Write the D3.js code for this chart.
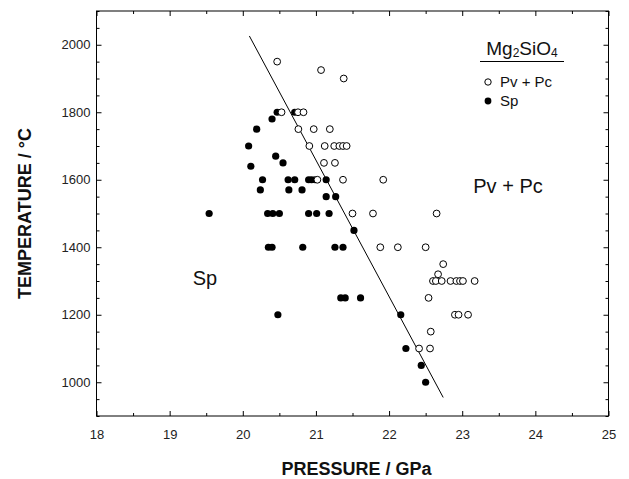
<!DOCTYPE html>
<html><head><meta charset="utf-8">
<script src="https://cdn.jsdelivr.net/npm/d3@7"></script>
<style>
body{margin:0;background:#fff}
svg{display:block}
text{font-family:"Liberation Sans",Arial,Helvetica,sans-serif}
</style>
</head><body>
<svg id="chart" width="629" height="479"></svg>
<script>
// ---- data ----
const xMajorTicks = [18, 19, 20, 21, 22, 23, 24, 25];
const yLabelTicks = [1000, 1200, 1400, 1600, 1800, 2000];

// Pv + Pc (open circles)
const pvPressure = [20.47, 21.07, 21.38,
  20.53, 20.755, 20.83,
  20.76, 20.97, 21.19,
  20.91, 21.12, 21.25, 21.32, 21.37, 21.42,
  21.11, 21.26,
  21.02, 21.37, 21.92,
  21.50, 21.78, 22.65,
  21.88, 22.12, 22.50,
  22.74, 22.67,
  22.60, 22.64, 22.72, 22.84, 22.92, 22.97, 23.01, 23.17,
  22.54,
  22.90, 22.95, 23.08,
  22.57,
  22.41, 22.56];
const pvTemp = [1950, 1925, 1900,
  1800, 1800, 1800,
  1750, 1750, 1750,
  1700, 1700, 1700, 1700, 1700, 1700,
  1650, 1650,
  1600, 1600, 1600,
  1500, 1500, 1500,
  1400, 1400, 1400,
  1350, 1320,
  1300, 1300, 1300, 1300, 1300, 1300, 1300, 1300,
  1250,
  1200, 1200, 1200,
  1150,
  1100, 1100];

// Sp (filled circles)
const spPressure = [20.47, 20.71,
  20.40, 20.19, 20.08, 20.45, 20.55, 20.11,
  20.27, 20.62, 20.71, 20.90, 20.94, 20.99, 21.14,
  20.24, 20.63, 20.81,
  21.14, 21.27,
  19.54, 20.34, 20.41, 20.50, 20.90, 21.01, 21.18,
  21.52,
  20.35, 20.40, 20.82, 21.26, 21.37,
  21.34, 21.40, 21.61,
  20.48, 22.16,
  22.23, 22.44, 22.50];
const spTemp = [1800, 1800,
  1780, 1750, 1700, 1670, 1650, 1640,
  1600, 1600, 1600, 1600, 1600, 1600, 1600,
  1570, 1570, 1570,
  1550, 1550,
  1500, 1500, 1500, 1500, 1500, 1500, 1500,
  1450,
  1400, 1400, 1400, 1400, 1400,
  1250, 1250, 1250,
  1200, 1200,
  1100, 1050, 1000];

// phase boundary
const boundaryPressure = [20.09, 22.74];
const boundaryTemp = [2026, 955];

// ---- drawing ----
const svg = d3.select("#chart");
const L = 96.5, R = 608.5, T = 11, B = 416;
const x = d3.scaleLinear().domain([18, 25]).range([L, R]);
const y = d3.scaleLinear().domain([900, 2100]).range([B, T]);

const xMinor = d3.range(18, 25.001, 0.5).filter(v => !xMajorTicks.includes(v));
const yAll = d3.range(900, 2100.001, 50);
const yMinor = yAll.filter(v => !yLabelTicks.includes(v));

function styleAxis(g) {
  g.select(".domain").remove();
  g.selectAll("line").attr("stroke", "#000").attr("stroke-width", 1);
  g.selectAll("text").attr("fill", "#222").style("font-size", "13px");
}

// bottom
svg.append("g").attr("transform", `translate(0,${B})`)
  .call(d3.axisBottom(x).tickValues(xMajorTicks).tickSizeInner(-5).tickSizeOuter(0).tickPadding(14).tickFormat(d3.format("d")))
  .call(styleAxis);
svg.append("g").attr("transform", `translate(0,${B})`)
  .call(d3.axisBottom(x).tickValues(xMinor).tickSizeInner(-3).tickSizeOuter(0).tickFormat(""))
  .call(styleAxis);
// top
svg.append("g").attr("transform", `translate(0,${T})`)
  .call(d3.axisTop(x).tickValues(xMajorTicks).tickSizeInner(-5).tickSizeOuter(0).tickFormat(""))
  .call(styleAxis);
svg.append("g").attr("transform", `translate(0,${T})`)
  .call(d3.axisTop(x).tickValues(xMinor).tickSizeInner(-3).tickSizeOuter(0).tickFormat(""))
  .call(styleAxis);
// left
svg.append("g").attr("transform", `translate(${L},0)`)
  .call(d3.axisLeft(y).tickValues(yLabelTicks).tickSizeInner(-5).tickSizeOuter(0).tickPadding(6).tickFormat(d3.format("d")))
  .call(styleAxis);
svg.append("g").attr("transform", `translate(${L},0)`)
  .call(d3.axisLeft(y).tickValues(yMinor).tickSizeInner(-3).tickSizeOuter(0).tickFormat(""))
  .call(styleAxis);
// right
svg.append("g").attr("transform", `translate(${R},0)`)
  .call(d3.axisRight(y).tickValues(yLabelTicks).tickSizeInner(-5).tickSizeOuter(0).tickFormat(""))
  .call(styleAxis);
svg.append("g").attr("transform", `translate(${R},0)`)
  .call(d3.axisRight(y).tickValues(yMinor).tickSizeInner(-3).tickSizeOuter(0).tickFormat(""))
  .call(styleAxis);

// frame
svg.append("rect").attr("x", L).attr("y", T).attr("width", R - L).attr("height", B - T)
  .attr("fill", "none").attr("stroke", "#000").attr("stroke-width", 1);

// axis titles
svg.append("text").attr("x", (L + R) / 2 + 4).attr("y", 475).attr("text-anchor", "middle")
  .style("font-size", "18px").style("font-weight", "bold").attr("fill", "#111")
  .text("PRESSURE / GPa");
svg.append("text").attr("transform", `translate(31,${(T + B) / 2}) rotate(-90)`).attr("text-anchor", "middle")
  .style("font-size", "18px").style("font-weight", "bold").attr("fill", "#111")
  .text("TEMPERATURE / °C");

// boundary line
svg.append("line")
  .attr("x1", x(boundaryPressure[0])).attr("y1", y(boundaryTemp[0]))
  .attr("x2", x(boundaryPressure[1])).attr("y2", y(boundaryTemp[1]))
  .attr("stroke", "#000").attr("stroke-width", 1);

// points
const sp = spPressure.map((p, i) => ({p, t: spTemp[i]}));
const pv = pvPressure.map((p, i) => ({p, t: pvTemp[i]}));
svg.append("g").selectAll("circle").data(sp).join("circle")
  .attr("cx", d => x(d.p)).attr("cy", d => y(d.t)).attr("r", 3.6).attr("fill", "#000");
svg.append("g").selectAll("circle").data(pv).join("circle")
  .attr("cx", d => x(d.p)).attr("cy", d => y(d.t)).attr("r", 3.4)
  .attr("fill", "#fff").attr("stroke", "#000").attr("stroke-width", 1);

// region labels
svg.append("text").attr("x", 205).attr("y", 285).attr("text-anchor", "middle")
  .style("font-size", "20px").attr("fill", "#111").text("Sp");
svg.append("text").attr("x", 508).attr("y", 193).attr("text-anchor", "middle")
  .style("font-size", "20px").attr("fill", "#111").text("Pv + Pc");

// legend
const lt = svg.append("text").attr("x", 522).attr("y", 55).attr("text-anchor", "middle")
  .style("font-size", "19px").attr("fill", "#111");
lt.append("tspan").text("Mg");
lt.append("tspan").style("font-size", "12px").attr("dy", 2).text("2");
lt.append("tspan").attr("dy", -2).text("SiO");
lt.append("tspan").style("font-size", "12px").attr("dy", 2).text("4");
svg.append("line").attr("x1", 480).attr("x2", 564).attr("y1", 61.5).attr("y2", 61.5)
  .attr("stroke", "#000").attr("stroke-width", 1);
svg.append("circle").attr("cx", 488).attr("cy", 82).attr("r", 3.2)
  .attr("fill", "#fff").attr("stroke", "#000");
svg.append("text").attr("x", 500).attr("y", 87).style("font-size", "15px").attr("fill", "#111").text("Pv + Pc");
svg.append("circle").attr("cx", 488).attr("cy", 101).attr("r", 3.4).attr("fill", "#000");
svg.append("text").attr("x", 500).attr("y", 106).style("font-size", "15px").attr("fill", "#111").text("Sp");
</script>
</body></html>
